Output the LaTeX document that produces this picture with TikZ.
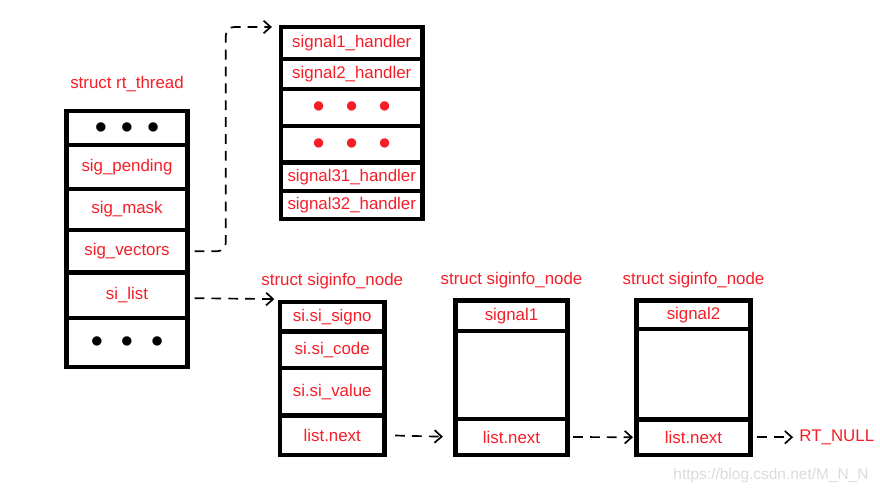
\documentclass[tikz,border=0pt]{standalone}
\usepackage{fontspec}
\setmainfont{Liberation Sans}
\usetikzlibrary{positioning,arrows.meta}
\definecolor{lbl}{RGB}{245,30,40}
\newcommand{\dotrow}[2]{\textcolor{#1}{\fontsize{17}{17}\selectfont$\bullet$\hspace{#2}$\bullet$\hspace{#2}$\bullet$}}

\begin{document}
\begin{tikzpicture}[node distance=0pt, >={Straight Barb[length=5pt,width=9pt]}]
	\tikzset{
		field/.style={rectangle, draw=black, line width=3.2pt, outer sep=0pt, inner sep=0pt, text=lbl, font=\fontsize{12}{14}\selectfont},
		rtfield/.style={field, minimum width=3.025cm},
		hfield/.style={field, minimum width=3.5375cm},
		title/.style={text=lbl, font=\fontsize{12}{14}\selectfont},
		link/.style={->, line width=1.2pt, dash pattern=on 7pt off 5pt, shorten <=5pt, shorten >=5pt},
	}
	\useasboundingbox (0,0) rectangle (22,-12.325);
	% struct rt_thread
	\node[rtfield, minimum height=0.85cm, anchor=north] (r1) at (3.175,-2.775) {\dotrow{black}{0.35cm}\hspace{0.3cm}};
	\node[rtfield, minimum height=1.1cm, below=of r1] (pend) {sig\_pending};
	\node[rtfield, minimum height=1.025cm, below=of pend] (mask) {sig\_mask};
	\node[rtfield, minimum height=1.0625cm, below=of mask] (vec) {sig\_vectors};
	\node[rtfield, minimum height=1.1375cm, below=of vec] (sil) {si\_list};
	\node[rtfield, minimum height=1.225cm, below=of sil] (r6) {\dotrow{black}{0.45cm}};
	\node[title, above=3.5mm of r1] (rtname) {struct rt\_thread};
	% signal handlers
	\node[hfield, minimum height=0.8cm, anchor=north] (h1) at (8.794,-0.675) {signal1\_handler};
	\node[hfield, minimum height=0.75cm, below=of h1] (h2) {signal2\_handler};
	\node[hfield, minimum height=0.925cm, below=of h2] (h3) {\dotrow{lbl}{0.52cm}};
	\node[hfield, minimum height=0.9125cm, below=of h3] (h4) {\dotrow{lbl}{0.52cm}};
	\node[hfield, minimum height=0.7125cm, below=of h4] (h31) {signal31\_handler};
	\node[hfield, minimum height=0.7cm, below=of h31] (h32) {signal32\_handler};
	% first siginfo_node
	\node[field, minimum width=2.6125cm, minimum height=0.7375cm, anchor=north] (s1a) at (8.306,-7.55) {si.si\_signo};
	\node[field, minimum width=2.6125cm, minimum height=0.9125cm, below=of s1a] (s1b) {si.si\_code};
	\node[field, minimum width=2.6125cm, minimum height=1.1875cm, below=of s1b] (s1c) {si.si\_value};
	\node[field, minimum width=2.6125cm, minimum height=0.9875cm, below=of s1c] (n1) {list.next};
	\node[title, above=2mm of s1a] (s1name) {struct siginfo\_node};
	% second siginfo_node
	\node[field, minimum width=2.8cm, minimum height=0.7625cm, anchor=north] (s2a) at (12.7875,-7.5125) {signal1};
	\node[field, minimum width=2.8cm, minimum height=2.2cm, below=of s2a] (s2b) {};
	\node[field, minimum width=2.8cm, minimum height=0.9cm, below=of s2b] (n2) {list.next};
	\node[title, above=2mm of s2a] (s2name) {struct siginfo\_node};
	% third siginfo_node
	\node[field, minimum width=2.85cm, minimum height=0.7125cm, anchor=north] (s3a) at (17.3375,-7.5125) {signal2};
	\node[field, minimum width=2.85cm, minimum height=2.2625cm, below=of s3a] (s3b) {};
	\node[field, minimum width=2.85cm, minimum height=0.8875cm, below=of s3b] (n3) {list.next};
	\node[title, above=2mm of s3a] (s3name) {struct siginfo\_node};
	\node[title, right=1.1cm of n3] (null) {RT\_NULL};
	\node[text=black!14, font=\fontsize{11}{13}\selectfont] (mark) at (19.275,-11.875) {https://blog.csdn.net/M\_N\_N};
	%draw arrows
	\draw[link, rounded corners=6pt, shorten >=6.5pt] (vec.east) -| ([xshift=-1.38cm]h1.north west) -- (h1.north west);
	\draw[link, shorten >=4pt] ([yshift=-2pt]sil.east) -- ([yshift=2pt]s1a.north west);
	\draw[link, shorten <=7.5pt, shorten >=9pt] (n1.east) -- (n2.west);
	\draw[link, shorten <=4pt, shorten >=2.5pt] (n2.east) -- (n3.west);
	\draw[link, shorten <=4.5pt, shorten >=1pt] (n3.east) -- (null.west);
\end{tikzpicture}
\end{document}
